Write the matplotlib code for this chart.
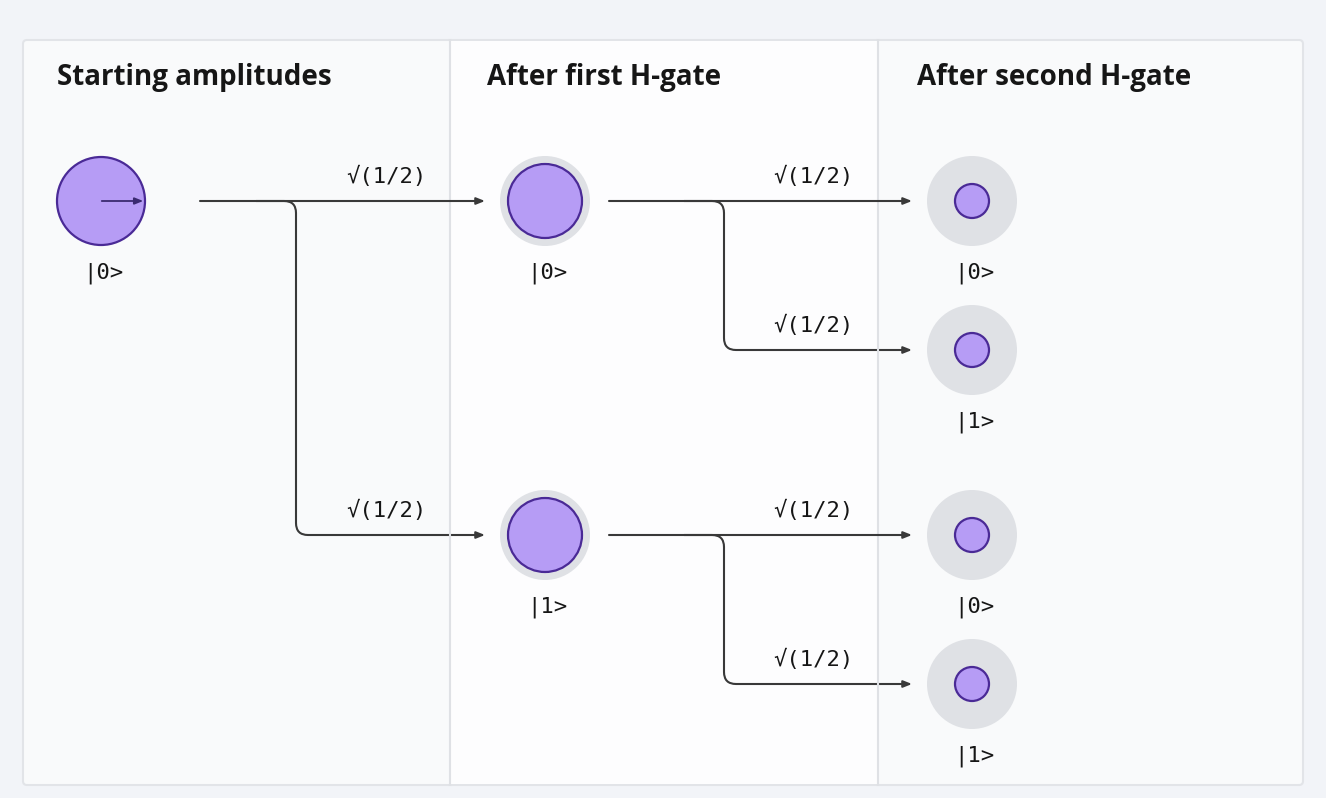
import matplotlib.pyplot as plt
import numpy as np
from matplotlib.patches import Circle, Rectangle, FancyBboxPatch, PathPatch
from matplotlib.path import Path

titles = ['Starting amplitudes', 'After first H-gate', 'After second H-gate']
stage0_states = ['|0>']
stage1_states = ['|0>', '|1>']
stage2_states = ['|0>', '|1>', '|0>', '|1>']
stage_probs = [[1.0], [0.5, 0.5], [0.25, 0.25, 0.25, 0.25]]
branch_labels = ['√(1/2)', '√(1/2)']

W, H = 1326, 798
fig = plt.figure(figsize=(W / 100, H / 100), dpi=100)
fig.patch.set_facecolor('#f2f4f8')
ax = fig.add_axes([0, 0, 1, 1])
ax.set_xlim(0, W)
ax.set_ylim(H, 0)
ax.axis('off')

card_x0, card_x1, card_y0, card_y1 = 23, 1303, 40, 785
ax.add_patch(FancyBboxPatch((card_x0, card_y0), card_x1 - card_x0, card_y1 - card_y0,
                            boxstyle='round,pad=0,rounding_size=4', fc='#f9fafb', ec='#e2e4e8', lw=1.5))
ax.add_patch(Rectangle((450, card_y0 + 1), 428, card_y1 - card_y0 - 2, fc='#fdfdfe', ec='none'))
for xd in (450, 878):
    ax.plot([xd, xd], [card_y0, card_y1], color='#dfe1e5', lw=1.5)

col_x = [101, 545, 972]
title_x = [57, 487, 917]
for tx, t in zip(title_x, titles):
    ax.text(tx, 77, t, fontsize=20, fontweight='bold', family='Open Sans', color='#161616', va='center')

row_y = {0: [201], 1: [201, 535], 2: [201, 350, 535, 684]}
states = [stage0_states, stage1_states, stage2_states]
purple, edge, halo = '#b69cf5', '#4a2a96', '#dfe1e5'


def radius(p):
    return np.interp(p, [0.25, 0.5, 1.0], [17, 37, 44])


for s in range(3):
    for y, lab, p in zip(row_y[s], states[s], stage_probs[s]):
        x = col_x[s]
        if s > 0:
            ax.add_patch(Circle((x, y), 45, fc=halo, ec='none'))
        ax.add_patch(Circle((x, y), radius(p), fc=purple, ec=edge, lw=1.6))
        ax.text(x + 2, y + 72, lab, family='DejaVu Sans Mono', fontsize=16, ha='center', va='center', color='#161616')
ax.annotate('', xy=(146, 201), xytext=(99, 201),
            arrowprops=dict(arrowstyle='-|>,head_length=0.5,head_width=0.2', color='#3a2a70', lw=1.3))

line_c = '#393939'


def branch(x0, xb, x1, y0, y1):
    ax.annotate('', xy=(x1, y0), xytext=(x0, y0),
                arrowprops=dict(arrowstyle='-|>,head_length=0.5,head_width=0.2', color=line_c, lw=1.5, shrinkA=0, shrinkB=0))
    r = 12
    verts = [(xb - 40, y0), (xb - r, y0), (xb, y0), (xb, y0 + r), (xb, y1 - r), (xb, y1), (xb + r, y1), (x1 - 8, y1)]
    codes = [Path.MOVETO, Path.LINETO, Path.CURVE3, Path.CURVE3, Path.LINETO, Path.CURVE3, Path.CURVE3, Path.LINETO]
    ax.add_patch(PathPatch(Path(verts, codes), fc='none', ec=line_c, lw=1.5))
    ax.annotate('', xy=(x1, y1), xytext=(x1 - 10, y1),
                arrowprops=dict(arrowstyle='-|>,head_length=0.5,head_width=0.2', color=line_c, lw=1.5, shrinkA=0, shrinkB=0))
    for yy, lab in zip((y0, y1), branch_labels):
        ax.text(x1 - 58, yy - 25, lab, family='DejaVu Sans Mono', fontsize=16, ha='right', va='center', color='#161616')


branch(200, 296, 485, 201, 535)
branch(609, 724, 912, 201, 350)
branch(609, 724, 912, 535, 684)

fig.savefig('out.png', dpi=100, facecolor=fig.get_facecolor())
